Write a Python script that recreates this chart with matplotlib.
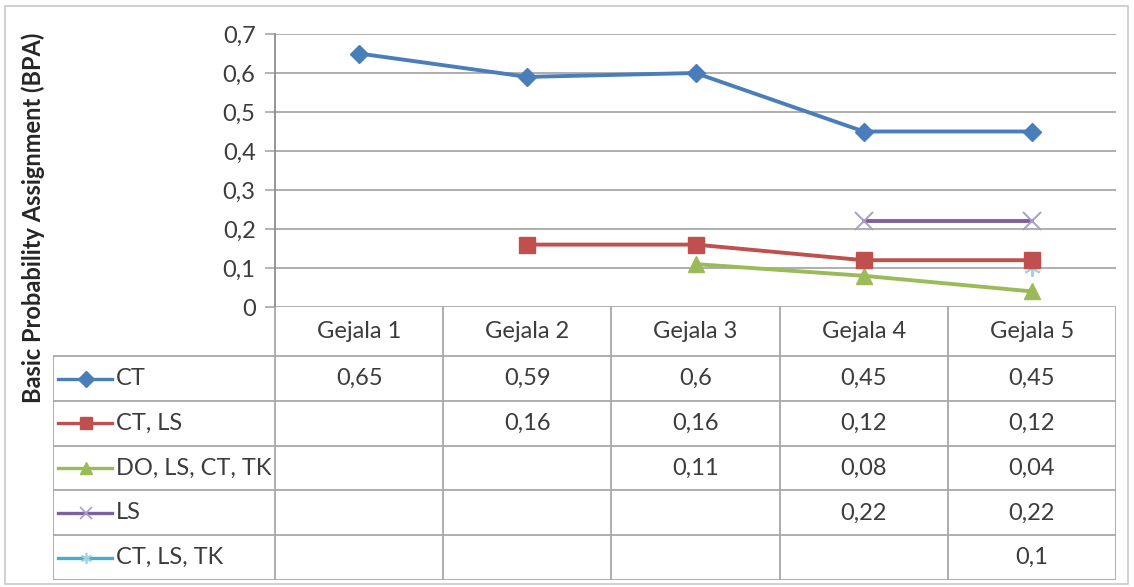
import matplotlib.pyplot as plt
import numpy as np
from matplotlib.patches import Rectangle

plt.rcParams['font.family'] = ['Lato', 'DejaVu Sans']

categories = ['Gejala 1', 'Gejala 2', 'Gejala 3', 'Gejala 4', 'Gejala 5']
series_names = ['CT', 'CT, LS', 'DO, LS, CT, TK', 'LS', 'CT, LS, TK']
ct = [0.65, 0.59, 0.6, 0.45, 0.45]
ct_ls = [None, 0.16, 0.16, 0.12, 0.12]
do_ls_ct_tk = [None, None, 0.11, 0.08, 0.04]
ls = [None, None, None, 0.22, 0.22]
ct_ls_tk = [None, None, None, None, 0.1]
series_values = [ct, ct_ls, do_ls_ct_tk, ls, ct_ls_tk]
yticks = [0, 0.1, 0.2, 0.3, 0.4, 0.5, 0.6, 0.7]

colors = ['#4a7ebb', '#c0504d', '#9bbb59', '#7d62a0', '#4bacc6']
marker_cols = ['#4a7ebb', '#c0504d', '#9bbb59', '#a89cc8', '#9fd3e2']
markers = ['D', 's', '^', 'x', (6, 2, 0)]
msizes = [9, 12, 11, 13, 12]
zorders = [4, 5, 4, 4, 3]
line_grey = '#a8a8a8'
text_col = '#3c3c3c'

W, H = 1134, 587
fig = plt.figure(figsize=(W / 100, H / 100), dpi=100)
fig.patch.set_facecolor('white')

# outer chart border
fig.add_artist(Rectangle((5 / W, 3 / H), 1123 / W, 578 / H, transform=fig.transFigure,
                         fill=False, edgecolor='#c8c8c8', lw=1.2))

x = np.arange(1, len(categories) + 1)

# ---- line chart ----
ax = fig.add_axes([275 / W, 280 / H, 841 / W, 273 / H])
ax.set_xlim(0.5, 5.5)
ax.set_ylim(0, 0.7)
ax.set_yticks(yticks)
ax.set_yticklabels([('%g' % v).replace('.', ',') for v in yticks], fontsize=17, color=text_col)
ax.tick_params(axis='y', length=7, width=1.2, color=line_grey, pad=7)
ax.set_xticks([])
ax.grid(axis='y', color=line_grey, lw=1.3)
ax.set_axisbelow(True)
for s in ['top', 'right', 'bottom']:
    ax.spines[s].set_visible(False)
ax.spines['left'].set_color('#8c8c8c')
ax.spines['left'].set_linewidth(1.3)

for vals, c, mc, m, ms, z in zip(series_values, colors, marker_cols, markers, msizes, zorders):
    y = np.array([np.nan if v is None else v for v in vals], dtype=float)
    mew = 1.4 if m in ('x', (6, 2, 0)) else 1
    ax.plot(x, y, color=c, lw=2.8, marker=m, markersize=ms, markeredgewidth=mew,
            markeredgecolor=mc, markerfacecolor=mc, clip_on=False, zorder=z)

fig.text(33 / W, 1 - 218 / H, 'Basic Probability Assignment (BPA)', rotation=90,
         ha='center', va='center', fontsize=17, fontweight='bold', color='#262626')

# ---- data table ----
tab = fig.add_axes([53 / W, 7 / H, 1063 / W, 273 / H])
tab.set_xlim(-0.82, 5.5)
tab.set_ylim(6.1, 0)
tab.axis('off')

head = 1.1
n_rows = len(series_names)
bottom = head + n_rows
for xv in np.arange(0.5, 6.0, 1.0):
    tab.plot([xv, xv], [0, bottom], color=line_grey, lw=1.3)
tab.plot([-0.82, -0.82], [head, bottom], color=line_grey, lw=1.3)
for r in range(n_rows + 1):
    tab.plot([-0.82, 5.5], [head + r, head + r], color=line_grey, lw=1.3)

for i, cat in enumerate(categories):
    tab.text(x[i], head / 2, cat, ha='center', va='center', fontsize=17, color=text_col)

for r, (name, vals, c, mc, m) in enumerate(zip(series_names, series_values, colors,
                                                marker_cols, markers)):
    yc = head + r + 0.5
    mew = 1.2 if m in ('x', (6, 2, 0)) else 1
    tab.plot([-0.79, -0.47], [yc, yc], color=c, lw=2.4)
    tab.plot([-0.625], [yc], color=mc, marker=m, markersize=8, markeredgewidth=mew,
             markeredgecolor=mc)
    tab.text(-0.445, yc, name, ha='left', va='center', fontsize=17, color=text_col)
    for i, v in enumerate(vals):
        if v is not None:
            tab.text(x[i], yc, ('%g' % v).replace('.', ','), ha='center', va='center',
                     fontsize=17, color=text_col)

fig.savefig('out.png', dpi=100)
